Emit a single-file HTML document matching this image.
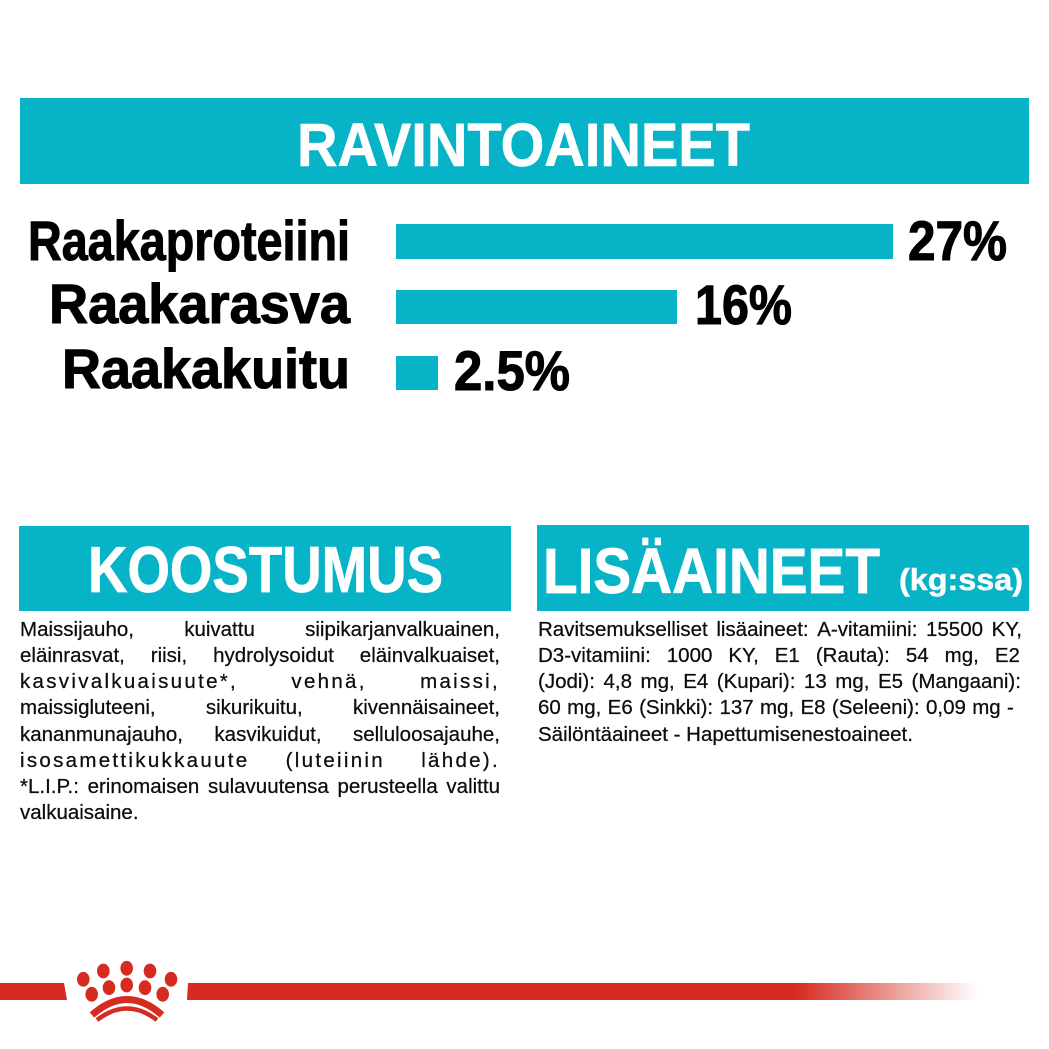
<!DOCTYPE html>
<html>
<head>
<meta charset="utf-8">
<style>
  html,body{margin:0;padding:0;background:#fff;}
  body{width:1049px;height:1049px;position:relative;overflow:hidden;}
  svg{position:absolute;left:0;top:0;}
  .ln{position:absolute;height:26px;line-height:26.2px;font-family:"Liberation Sans",sans-serif;font-size:20.5px;color:#0d0d0d;white-space:nowrap;-webkit-text-stroke:0.25px #0d0d0d;}
  .j{display:flex;justify-content:space-between;}
  .ls{letter-spacing:2.3px;}
</style>
</head>
<body>
<svg width="1049" height="1049" viewBox="0 0 1049 1049" xmlns="http://www.w3.org/2000/svg">
  <rect x="20" y="98" width="1009" height="86" fill="#07b3c6"/>
  <text x="297" y="166" font-family="Liberation Sans, sans-serif" font-weight="bold" font-size="61" fill="#fff" stroke="#fff" stroke-width="0.6" textLength="453" lengthAdjust="spacingAndGlyphs">RAVINTOAINEET</text>

  <g font-family="Liberation Sans, sans-serif" font-weight="bold" font-size="56" fill="#000" stroke="#000" stroke-width="1.1">
    <text x="28" y="260" textLength="322" lengthAdjust="spacingAndGlyphs">Raakaproteiini</text>
    <text x="49" y="323" textLength="301" lengthAdjust="spacingAndGlyphs">Raakarasva</text>
    <text x="62" y="388" textLength="288" lengthAdjust="spacingAndGlyphs">Raakakuitu</text>
    <text x="908" y="260" textLength="99" lengthAdjust="spacingAndGlyphs">27%</text>
    <text x="695" y="324" textLength="97" lengthAdjust="spacingAndGlyphs">16%</text>
    <text x="454" y="390" textLength="116" lengthAdjust="spacingAndGlyphs">2.5%</text>
  </g>

  <rect x="396" y="224" width="497" height="35" fill="#07b3c6"/>
  <rect x="396" y="290" width="281" height="34" fill="#07b3c6"/>
  <rect x="396" y="356" width="42" height="34" fill="#07b3c6"/>

  <rect x="19" y="526" width="492" height="85" fill="#07b3c6"/>
  <text x="88" y="592" font-family="Liberation Sans, sans-serif" font-weight="bold" font-size="65" fill="#fff" stroke="#fff" stroke-width="0.8" textLength="355" lengthAdjust="spacingAndGlyphs">KOOSTUMUS</text>

  <rect x="537" y="525" width="492" height="86" fill="#07b3c6"/>
  <text x="543" y="593" font-family="Liberation Sans, sans-serif" font-weight="bold" font-size="64" fill="#fff" stroke="#fff" stroke-width="0.8" textLength="337" lengthAdjust="spacingAndGlyphs">LISÄAINEET</text>
  <text x="899" y="590" font-family="Liberation Sans, sans-serif" font-weight="bold" font-size="31" fill="#fff" stroke="#fff" stroke-width="0.5" textLength="124" lengthAdjust="spacingAndGlyphs">(kg:ssa)</text>

  <defs>
    <linearGradient id="fade" x1="188" y1="0" x2="978" y2="0" gradientUnits="userSpaceOnUse">
      <stop offset="0" stop-color="#d62b20"/>
      <stop offset="0.77" stop-color="#d62b20"/>
      <stop offset="1" stop-color="#d62b20" stop-opacity="0"/>
    </linearGradient>
  </defs>
  <polygon points="0,983 64,983 67,1000 0,1000" fill="#d62b20"/>
  <polygon points="188,983 978,983 978,1000 187,1000" fill="url(#fade)"/>

  <g fill="#d62b20">
    <ellipse cx="103.3" cy="971" rx="6.3" ry="7.4"/>
    <ellipse cx="126.7" cy="968.3" rx="6.3" ry="7.4"/>
    <ellipse cx="150" cy="971" rx="6.3" ry="7.4"/>
    <ellipse cx="83.3" cy="979.3" rx="6.3" ry="7.4"/>
    <ellipse cx="171" cy="979.3" rx="6.3" ry="7.4"/>
    <ellipse cx="91.7" cy="994.3" rx="6.3" ry="7.4"/>
    <ellipse cx="109" cy="987.7" rx="6.3" ry="7.4"/>
    <ellipse cx="126.7" cy="985" rx="6.3" ry="7.4"/>
    <ellipse cx="145" cy="987.7" rx="6.3" ry="7.4"/>
    <ellipse cx="162.7" cy="994.3" rx="6.3" ry="7.4"/>
  </g>
  <path d="M92 1015 Q127 984 162 1015" fill="none" stroke="#d62b20" stroke-width="7"/>
  <path d="M97 1020 Q127 997 157 1020" fill="none" stroke="#d62b20" stroke-width="4.5"/>
</svg>

<div class="ln j" style="left:20px;top:616.8px;width:480px;"><span>Maissijauho,</span><span>kuivattu</span><span>siipikarjanvalkuainen,</span></div>
<div class="ln j" style="left:20px;top:643px;width:480px;"><span>eläinrasvat,</span><span>riisi,</span><span>hydrolysoidut</span><span>eläinvalkuaiset,</span></div>
<div class="ln j ls" style="left:20px;top:669.2px;width:480px;"><span>kasvivalkuaisuute*,</span><span>vehnä,</span><span>maissi,</span></div>
<div class="ln j" style="left:20px;top:695.4px;width:480px;"><span>maissigluteeni,</span><span>sikurikuitu,</span><span>kivennäisaineet,</span></div>
<div class="ln j" style="left:20px;top:721.6px;width:480px;"><span>kananmunajauho,</span><span>kasvikuidut,</span><span>selluloosajauhe,</span></div>
<div class="ln j ls" style="left:20px;top:747.8px;width:480px;"><span>isosamettikukkauute</span><span>(luteiinin</span><span>lähde).</span></div>
<div class="ln j" style="left:20px;top:774px;width:480px;"><span>*L.I.P.:</span><span>erinomaisen</span><span>sulavuutensa</span><span>perusteella</span><span>valittu</span></div>
<div class="ln" style="left:20px;top:800.2px;">valkuaisaine.</div>

<div class="ln j" style="left:538px;top:616.8px;width:484px;"><span>Ravitsemukselliset</span><span>lisäaineet:</span><span>A-vitamiini:</span><span>15500</span><span>KY,</span></div>
<div class="ln j" style="left:538px;top:643px;width:482px;"><span>D3-vitamiini:</span><span>1000</span><span>KY,</span><span>E1</span><span>(Rauta):</span><span>54</span><span>mg,</span><span>E2</span></div>
<div class="ln j" style="left:538px;top:669.2px;width:483px;"><span>(Jodi):</span><span>4,8</span><span>mg,</span><span>E4</span><span>(Kupari):</span><span>13</span><span>mg,</span><span>E5</span><span>(Mangaani):</span></div>
<div class="ln j" style="left:538px;top:695.4px;width:476px;"><span>60</span><span>mg,</span><span>E6</span><span>(Sinkki):</span><span>137</span><span>mg,</span><span>E8</span><span>(Seleeni):</span><span>0,09</span><span>mg</span><span>-</span></div>
<div class="ln" style="left:538px;top:721.6px;">Säilöntäaineet - Hapettumisenestoaineet.</div>
</body>
</html>
